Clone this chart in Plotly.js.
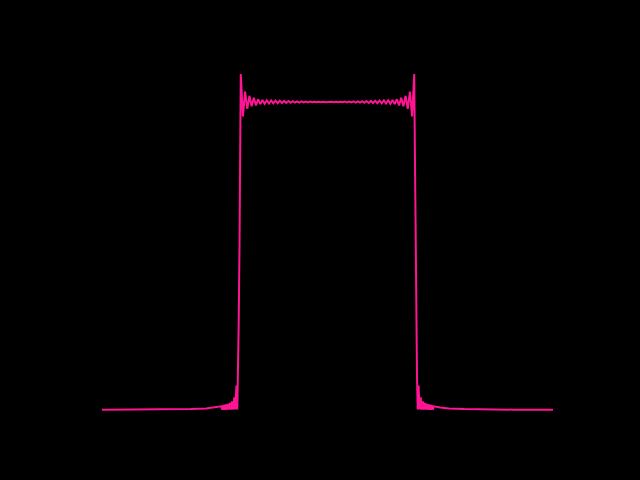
<!DOCTYPE html>
<html>
<head>
<meta charset="utf-8">
<script src="https://cdn.plot.ly/plotly-3.0.1.min.js"></script>
<style>html,body{margin:0;padding:0;background:#000;}#chart{width:640px;height:480px;}</style>
</head>
<body>
<div id="chart"></div>
<script>
// Left half (frequency, magnitude)
const freqLeft = [-52, -43, -36, -31.5, -28, -26, -24.5,
 -24.25, -24, -23.75, -23.5, -23.25, -23, -22.75, -22.5, -22.25, -22, -21.75, -21.5, -21.25, -21, -20.8,
 -20.65, -20.5, -20.3, -20.15, -20,
 -19.5, -19, -18.5, -18, -17.5, -17, -16.5, -16, -15.5, -15, -14.5, -14, -13.5, -13, -12.5, -12, -11.5, -11, -10.5, -10,
 -9.5, -9, -8.5, -8, -7.5, -7, -6.5, -6, -5.5, -5, -4.5, -4, -3.5, -3, -2.5, -2, -1.5, -1, -0.5];
const magLeft = [0.002, 0.002, 0.003, 0.004, 0.006, 0.009, 0.013,
 0.002, 0.017, 0.002, 0.019, 0.002, 0.021, 0.002, 0.024, 0.002, 0.029, 0.002, 0.042, 0.003, 0.08, 0.003,
 0.1, 0.26, 0.52, 0.845, 1.091,
 0.953, 1.034, 0.978, 1.02, 0.986, 1.014, 0.989, 1.009, 0.993, 1.0065, 0.994, 1.0055, 0.995, 1.005, 0.9955, 1.0045, 0.996, 1.004, 0.9965, 1.0035,
 0.997, 1.003, 0.9975, 1.0025, 0.998, 1.0022, 0.9982, 1.0018, 0.9985, 1.0015, 0.9988, 1.0012, 0.999, 1.001, 0.9992, 1.0008, 0.9993, 1.0007, 0.9994];

const freqCenter = [0];
const magCenter = [1.0006];

// Right half
const freqRight = [0.5, 1, 1.5, 2, 2.5, 3, 3.5, 4, 4.5, 5, 5.5, 6, 6.5, 7, 7.5, 8, 8.5, 9, 9.5, 10,
 10.5, 11, 11.5, 12, 12.5, 13, 13.5, 14, 14.5, 15, 15.5, 16, 16.5, 17, 17.5, 18, 18.5, 19, 19.5,
 20, 20.15, 20.3, 20.5, 20.65,
 20.8, 21, 21.25, 21.5, 21.75, 22, 22.25, 22.5, 22.75, 23, 23.25, 23.5, 23.75, 24, 24.25,
 24.5, 26, 28, 31.5, 36, 43, 52];
const magRight = [0.9994, 1.0007, 0.9993, 1.0008, 0.9992, 1.001, 0.999, 1.0012, 0.9988, 1.0015, 0.9985, 1.0018, 0.9982, 1.0022, 0.998, 1.0025, 0.9975, 1.003, 0.997, 1.0035,
 0.9965, 1.004, 0.996, 1.0045, 0.9955, 1.005, 0.995, 1.0055, 0.994, 1.0065, 0.993, 1.009, 0.989, 1.014, 0.986, 1.02, 0.978, 1.034, 0.953,
 1.091, 0.845, 0.52, 0.26, 0.1,
 0.003, 0.08, 0.003, 0.042, 0.002, 0.029, 0.002, 0.024, 0.002, 0.021, 0.002, 0.019, 0.002, 0.017, 0.002,
 0.013, 0.009, 0.006, 0.004, 0.003, 0.002, 0.002];

const xs = freqLeft.concat(freqCenter, freqRight);
const ys = magLeft.concat(magCenter, magRight);

const trace = {
  x: xs, y: ys, type: 'scatter', mode: 'lines',
  line: {color: '#ff1493', width: 2},
  hoverinfo: 'skip'
};

const layout = {
  width: 640, height: 480, autosize: false,
  paper_bgcolor: '#000000', plot_bgcolor: '#000000',
  margin: {l: 102, r: 87, t: 0, b: 0, pad: 0},
  showlegend: false,
  xaxis: {range: [-52, 52], visible: false, showgrid: false, zeroline: false},
  yaxis: {range: [-0.2261, 1.3308], visible: false, showgrid: false, zeroline: false}
};

Plotly.newPlot('chart', [trace], layout, {displayModeBar: false, staticPlot: true});
</script>
</body>
</html>
